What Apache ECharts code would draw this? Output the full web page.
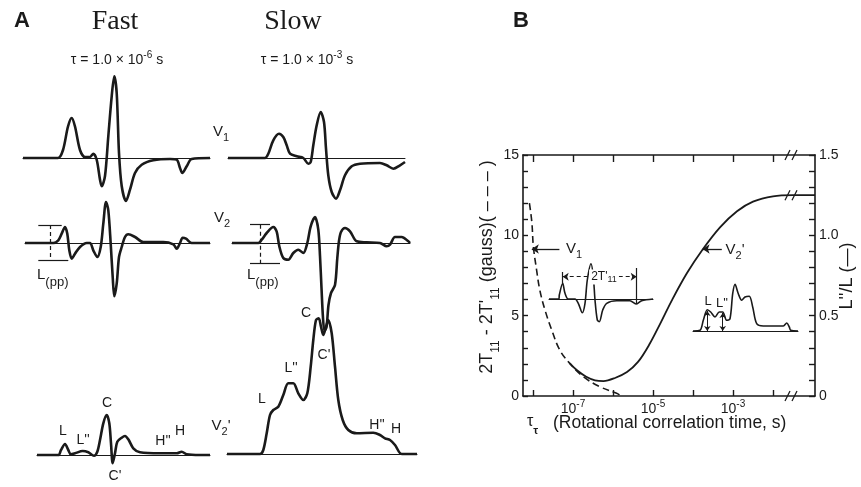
<!DOCTYPE html>
<html><head><meta charset="utf-8">
<script src="https://cdn.jsdelivr.net/npm/echarts@6/dist/echarts.min.js"></script>
<style>html,body{margin:0;padding:0;background:#fff}#c{width:861px;height:487px}</style>
</head><body><div id="c"></div>
<script>
// ---------- DATA (panel A spectra: [field position, amplitude], arbitrary units) ----------
const fastV1 = [[0,0],[35,0],[40,8],[45,31.5],[48.7,40],[52,31.5],[57,8],[62,1],[67,1],[70.3,4.3],[73.7,-1.7],[77,-21.7],[78.7,-28.3],[82,-18],[85.3,21.7],[88.7,61.7],[91.3,81.7],[93.7,65],[96,5],[98.7,-28],[103,-43],[107,-31.7],[112,-15],[118.7,-6.7],[130.3,-2.3],[147,-1],[153.7,-1.7],[157,-10],[159.3,-15],[163.7,-8.3],[168.7,-1],[187,0]];
const fastV2 = [[0,0],[28.3,0],[33.3,2.7],[36.7,9.3],[40,16],[42.3,9.3],[44.3,-7.3],[46.7,-15.6],[50,-10.7],[55,-4],[61.7,0],[65,0],[68.3,-7.3],[72.3,-14],[75.7,-4],[78.3,19.3],[81,41],[83.3,32.7],[85.7,-0.7],[87.7,-34],[89.3,-53.3],[91.7,-40.7],[94,-14],[96.7,-4],[100,6],[103.3,8.7],[110,6],[118.3,1],[138.3,1],[148.3,-1.3],[151.7,-5.7],[155,0],[157.7,5.3],[161,4.3],[166.7,0],[185,0]];
const fastV2p = [[0,0],[21.3,0],[24,5],[28,11],[31.3,5],[33.7,0.7],[38,1.7],[45.7,4],[51.3,2.7],[57,-0.7],[60.3,3.3],[63,15],[66.3,31.7],[69.7,40],[72.3,31.7],[74,11.7],[75.7,-8.3],[78,1.7],[80.3,13.3],[84.7,17.3],[88,19],[91.3,15.7],[96.3,6.7],[103,2.7],[123,1.7],[139.7,1.7],[144.7,3.3],[149.7,0.7],[163,0],[173,0]];
const slowV1 = [[0,0],[37,0],[40.3,4.3],[45.3,17.7],[51,24.3],[55.3,21],[58.7,12.7],[62,4.3],[68.7,1.7],[75.3,0],[80.3,-5.7],[82.7,-4],[85.3,12.7],[88.7,32.7],[92.7,46],[96,36],[98,9.3],[100.3,-17.3],[103.7,-34],[108,-40.7],[112,-32.3],[117,-17.3],[123.7,-8.3],[132,-5.7],[152,-5],[158.7,-7.3],[165.3,-10.7],[172,-7.3],[177,-4]];
const slowV2 = [[0,0],[26.3,0],[29.7,3.3],[34.7,10],[41.3,16],[44.7,11.3],[47.3,-3.3],[51.3,-15],[56.3,-16.7],[61.3,-10],[66.3,-6.7],[71.3,-10],[75.3,0],[78.7,16.7],[83,26],[86.3,13.3],[88,-13],[89.5,-45],[91,-75],[92.5,-88],[94.5,-84],[96.5,-62],[99,-50],[103,-42],[105.3,-15],[107,2],[109,11],[113,15],[118,11.7],[124.7,1.7],[134.7,0.7],[148,0],[154.7,-3.3],[158,-1.7],[163,6],[169.7,6],[176.3,1.7],[178,0]];
const slowV2p = [[0,0],[33,0],[36.3,4],[39.7,20.7],[43,39],[46.3,44],[51.3,47.3],[56.3,59],[61.3,70.7],[66.3,70.7],[71.3,60.7],[76.3,54],[80.3,60.7],[83.7,87.3],[86.3,114],[89,134],[91.7,135.7],[94,127.3],[96.3,119],[99,127.3],[101.3,134],[104.7,120.7],[108,87.3],[111.3,54],[115.7,34],[121.3,24],[129.7,20.7],[146.3,21.3],[153,19],[158,15.7],[163,14],[168,9],[174.7,0],[190,0]];
// ---------- DATA (panel B) ----------
// x = log10(tau_r / s)
const dashedV1 = [[-8.09,12.0],[-8.03,10.85],[-7.99,9.29],[-7.91,7.84],[-7.83,6.6],[-7.70,5.35],[-7.53,4.1],[-7.33,2.86],[-7.08,2.03],[-6.74,1.2],[-6.33,0.58],[-5.91,0.17],[-5.83,0.06]];
const solidV2p = [[-7.08,0.203],[-6.9,0.16],[-6.67,0.12],[-6.45,0.098],[-6.24,0.093],[-5.95,0.112],[-5.65,0.149],[-5.375,0.212],[-5.1,0.317],[-4.8,0.46],[-4.525,0.597],[-4.15,0.765],[-3.75,0.915],[-3.325,1.05],[-2.9,1.15],[-2.5,1.21],[-2.0,1.243],[-1.5,1.25],[-0.95,1.25]];
const insetV1 = [[0,0],[10,0],[10.3,4],[13.7,15.7],[16,5.7],[19.3,0],[26,0],[29.3,-4.3],[33.3,-13.7],[36,-4.3],[38.3,19],[42,35.3],[44.3,22.7],[46,-1],[48.3,-21],[50.3,-22.7],[53.7,-11],[57.7,-4.3],[67.7,-1.7],[81,-1.7],[87,-5],[92.7,-1.7],[104,0]];
const insetV2p = [[0,0],[7,0.7],[10.3,10.7],[14.3,21.3],[17.7,19],[22,14],[26.3,19],[29.7,19],[33.7,10.7],[37,12.3],[39.7,37.3],[42,46.7],[45.3,37.3],[48.7,30.7],[52,34],[56.3,34.7],[59.7,24],[63.7,7.3],[70.3,5],[90.3,5],[93.7,8],[96.3,4],[97.7,0.7],[105,0]];
const xTickValues = [-8,-7,-6,-5,-4,-3,-2];
const xLabelValues = [-7,-5,-3];

// ---------- LAYOUT ----------
const INK = '#1a1a1a';
const SANS = '"Liberation Sans", Arial, sans-serif';
const SERIF = '"Liberation Serif", "Times New Roman", serif';
const panels = [
  {data: fastV1,  left: 23,  width: 187, base: 158, yMin: -50, yMax: 90,  w: 2.6},
  {data: fastV2,  left: 25,  width: 185, base: 243, yMin: -60, yMax: 50,  w: 2.6},
  {data: fastV2p, left: 37,  width: 173, base: 455, yMin: -15, yMax: 45,  w: 2.6},
  {data: slowV1,  left: 228, width: 177, base: 158, yMin: -50, yMax: 55,  w: 2.6},
  {data: slowV2,  left: 232, width: 178, base: 243, yMin: -95, yMax: 35,  w: 2.6},
  {data: slowV2p, left: 227, width: 190, base: 454, yMin: -10, yMax: 145, w: 2.6},
  {data: insetV1, left: 549, width: 104, base: 299, yMin: -30, yMax: 40,  w: 1.6},
  {data: insetV2p,left: 693, width: 105, base: 331, yMin: -5,  yMax: 50,  w: 1.6}
];
const B = {left: 523, top: 155, right: 46, bottom: 91};

const grids = [], xAxes = [], yAxes = [], series = [];
function spectrumGrid(p) {
  return {left: p.left, top: p.base - p.yMax, width: p.width, height: p.yMax - p.yMin};
}
for (let i = 0; i < 6; i++) grids.push(spectrumGrid(panels[i]));
grids.push({left: B.left, top: B.top, right: B.right, bottom: B.bottom});
grids.push(spectrumGrid(panels[6]));
grids.push(spectrumGrid(panels[7]));

function hiddenX(gi, p) {
  return {gridIndex: gi, type: 'value', min: 0, max: p.width, axisLine: {show: true, onZero: true, lineStyle: {color: INK, width: 1}},
    axisTick: {show: false}, axisLabel: {show: false}, splitLine: {show: false}};
}
function hiddenY(gi, p) {
  return {gridIndex: gi, type: 'value', min: p.yMin, max: p.yMax, show: false, splitLine: {show: false}};
}
for (let i = 0; i < 6; i++) { xAxes[i] = hiddenX(i, panels[i]); yAxes[i] = hiddenY(i, panels[i]); }
const axLine = {show: true, onZero: false, lineStyle: {color: INK, width: 1.6}};
xAxes[6] = {gridIndex: 6, type: 'value', min: -8.25, max: -0.95, position: 'bottom', axisLine: axLine,
  axisTick: {show: true, inside: true, length: 6, customValues: xTickValues, lineStyle: {color: INK, width: 1.4}},
  axisLabel: {show: true, customValues: xLabelValues, margin: 3, color: INK,
    formatter: v => '{b|10}{s|' + v + '}',
    rich: {b: {fontFamily: SANS, fontSize: 14, color: INK, lineHeight: 17, verticalAlign: 'bottom'},
           s: {fontFamily: SANS, fontSize: 10, color: INK, lineHeight: 17, verticalAlign: 'top'}}},
  splitLine: {show: false}};
xAxes[7] = {gridIndex: 6, type: 'value', min: -8.25, max: -0.95, position: 'top', axisLine: axLine,
  axisTick: {show: true, inside: true, length: 7, customValues: xTickValues, lineStyle: {color: INK, width: 1.4}},
  axisLabel: {show: false}, splitLine: {show: false}};
xAxes[8] = hiddenX(7, panels[6]);
xAxes[9] = hiddenX(8, panels[7]);

yAxes[6] = {gridIndex: 6, type: 'value', min: 0, max: 15, interval: 1, position: 'left', axisLine: axLine,
  axisTick: {show: true, inside: true, length: 5, lineStyle: {color: INK, width: 1.4}},
  axisLabel: {margin: 4, color: INK, fontFamily: SANS, fontSize: 14, formatter: v => (v % 5 === 0 ? String(v) : '')},
  splitLine: {show: false}};
yAxes[7] = {gridIndex: 6, type: 'value', min: 0, max: 1.5, interval: 0.1, position: 'right', axisLine: axLine,
  axisTick: {show: true, inside: true, length: 6, lineStyle: {color: INK, width: 1.4}},
  axisLabel: {margin: 4, color: INK, fontFamily: SANS, fontSize: 14,
    formatter: v => { const h = v * 2; if (Math.abs(h - Math.round(h)) > 1e-6) return ''; return Math.abs(v) < 1e-9 ? '0' : v.toFixed(1); }},
  splitLine: {show: false}};
yAxes[8] = hiddenY(7, panels[6]);
yAxes[9] = hiddenY(8, panels[7]);

const solidThin = () => ({color: INK, width: 1.2, type: 'solid'});
const dashedThin = () => ({color: INK, width: 1.2, type: [4, 3]});
function seg(a, b, ls) { return [{coord: a, lineStyle: ls}, {coord: b}]; }
function ml(items) {
  return {silent: true, symbol: 'none', animation: false, label: {show: false}, lineStyle: solidThin(), data: items};
}
for (let i = 0; i < 6; i++) {
  series.push({type: 'line', xAxisIndex: i, yAxisIndex: i, data: panels[i].data, smooth: 0.3, symbol: 'none',
    lineStyle: {color: INK, width: panels[i].w}, animation: false, z: 3});
}
// L(pp) brackets (fast V2 = series 1, slow V2 = series 4)
series[1].markLine = ml([
  seg([13.3, 18], [36.7, 18], solidThin()),
  seg([13.3, -17.7], [43.3, -17.7], solidThin()),
  seg([25.7, 18], [25.7, -17.7], dashedThin())
]);
series[4].markLine = ml([
  seg([18, 18.3], [38, 18.3], solidThin()),
  seg([18, -20], [48, -20], solidThin()),
  seg([28, 18.3], [28, -20], dashedThin())
]);

// panel B curves
series.push({type: 'line', xAxisIndex: 6, yAxisIndex: 6, data: dashedV1, smooth: 0.4, symbol: 'none',
  lineStyle: {color: INK, width: 1.6, type: [7, 4]}, animation: false,
  markLine: {silent: true, animation: false, label: {show: false}, lineStyle: {color: INK, width: 1.3, type: 'solid'},
    symbol: 'none', symbolSize: 7,
    data: [
      [{coord: [-8.03, 9.15], symbol: 'arrow'}, {coord: [-7.34, 9.15], symbol: 'none'}],
      [{coord: [-3.76, 9.15], symbol: 'arrow'}, {coord: [-3.28, 9.15], symbol: 'none'}]
    ]}});
series.push({type: 'line', xAxisIndex: 6, yAxisIndex: 7, data: solidV2p, smooth: 0.35, symbol: 'none',
  lineStyle: {color: INK, width: 1.8}, animation: false});
// insets
series.push({type: 'line', xAxisIndex: 8, yAxisIndex: 8, data: insetV1, smooth: 0.3, symbol: 'none',
  lineStyle: {color: INK, width: 1.6}, animation: false,
  markLine: {silent: true, animation: false, label: {show: false}, symbol: 'none', symbolSize: 6, lineStyle: solidThin(),
    data: [
      [{coord: [13.7, 22.3], symbol: 'arrow', lineStyle: dashedThin()}, {coord: [87.7, 22.3], symbol: 'arrow'}],
      [{coord: [13.7, 15.7], lineStyle: solidThin()}, {coord: [13.7, 27]}],
      [{coord: [87.7, -5], lineStyle: solidThin()}, {coord: [87.7, 31]}]
    ]}});
series.push({type: 'line', xAxisIndex: 9, yAxisIndex: 9, data: insetV2p, smooth: 0.3, symbol: 'none',
  lineStyle: {color: INK, width: 1.6}, animation: false,
  markLine: {silent: true, animation: false, label: {show: false}, symbol: 'none', symbolSize: 5,
    lineStyle: {color: INK, width: 1, type: 'solid'},
    data: [
      [{coord: [14.3, 0], symbol: 'arrow'}, {coord: [14.3, 20], symbol: 'arrow'}],
      [{coord: [29.7, 0], symbol: 'arrow'}, {coord: [29.7, 18], symbol: 'arrow'}]
    ]}});

const chart = echarts.init(document.getElementById('c'), null, {renderer: 'canvas'});
chart.setOption({backgroundColor: '#fff', animation: false, grid: grids, xAxis: xAxes, yAxis: yAxes, series: series});

// ---------- TEXT & BREAK MARKS ----------
function txt(x, y, text, size, opts) {
  return {type: 'text', x: x, y: y, silent: true, z: 20,
    style: Object.assign({text: text, fill: INK, font: size + 'px ' + SANS, textAlign: 'center', textVerticalAlign: 'middle'}, opts || {})};
}
const supRich = {
  b: {fontFamily: SANS, fontSize: 14, fill: INK, lineHeight: 17, verticalAlign: 'bottom'},
  s: {fontFamily: SANS, fontSize: 10, fill: INK, lineHeight: 17, verticalAlign: 'top'},
  v: {fontFamily: SANS, fontSize: 15, fill: INK, lineHeight: 19, verticalAlign: 'top'},
  d: {fontFamily: SANS, fontSize: 11, fill: INK, lineHeight: 19, verticalAlign: 'bottom'},
  L: {fontFamily: SANS, fontSize: 15, fill: INK, lineHeight: 21, verticalAlign: 'top'},
  p: {fontFamily: SANS, fontSize: 13, fill: INK, lineHeight: 21, verticalAlign: 'bottom'},
  n: {fontFamily: SANS, fontSize: 18, fill: INK, lineHeight: 24, verticalAlign: 'top'},
  ns: {fontFamily: SANS, fontSize: 12, fill: INK, lineHeight: 24, verticalAlign: 'bottom'}
};
function rich(x, y, text, align, rot) {
  return {type: 'text', x: x, y: y, rotation: rot || 0, silent: true, z: 20,
    style: {text: text, rich: supRich, textAlign: align || 'center', textVerticalAlign: 'middle', fill: INK}};
}
const g = [];
g.push(txt(22, 21, 'A', 22, {font: 'bold 22px ' + SANS}));
g.push(txt(521, 21, 'B', 22, {font: 'bold 22px ' + SANS}));
g.push(txt(115, 22, 'Fast', 28, {font: '28px ' + SERIF}));
g.push(txt(293, 22, 'Slow', 28, {font: '28px ' + SERIF}));
g.push(rich(117, 59, '{b|\u03c4 = 1.0 \u00d7 10}{s|-6}{b| s}'));
g.push(rich(307, 59, '{b|\u03c4 = 1.0 \u00d7 10}{s|-3}{b| s}'));
g.push(rich(221, 134, '{v|V}{d|1}'));
g.push(rich(222, 220, '{v|V}{d|2}'));
g.push(rich(221, 428, '{v|V}{d|2}{v|\'}'));
g.push(rich(37, 278, '{L|L}{p|(pp)}', 'left'));
g.push(rich(247, 278, '{L|L}{p|(pp)}', 'left'));
// fast V2' peak labels
[[63,431,'L'],[83,440,'L\'\''],[107,403,'C'],[115,476,'C\''],[163,441,'H\'\''],[180,431,'H']].forEach(a => g.push(txt(a[0], a[1], a[2], 14)));
// slow V2' peak labels
[[262,399,'L'],[291,368,'L\'\''],[306,313,'C'],[324,355,'C\''],[377,425,'H\'\''],[396,429,'H']].forEach(a => g.push(txt(a[0], a[1], a[2], 14)));
// panel B axis titles
g.push(rich(490, 267, '{n|2T}{ns|11}{n| - 2T\'}{ns|11}{n| (gauss)( \u2013 \u2013 \u2013 )}', 'center', Math.PI / 2));
g.push(rich(850, 276, '{n|L\'\'/L (\u2014)}', 'center', Math.PI / 2));
// panel B annotations
g.push(rich(574, 251, '{v|V}{d|1}'));
g.push(rich(735, 252, '{v|V}{d|2}{v|\'}'));
g.push({type: 'text', x: 604, y: 277, silent: true, z: 21,
  style: {text: '2T\'{d|11}', rich: {d: {fontFamily: SANS, fontSize: 9, fill: INK, verticalAlign: 'bottom', lineHeight: 15}},
    font: '12px ' + SANS, fill: INK, textAlign: 'center', textVerticalAlign: 'middle', backgroundColor: '#fff', padding: [0, 2]}});
g.push(txt(708, 301, 'L', 13));
g.push(txt(722, 303, 'L\'\'', 13));
g.push({type: 'text', x: 527, y: 425, silent: true, z: 20,
  style: {text: '{t|\u03c4}{u|\u03c4}', textAlign: 'left', textVerticalAlign: 'middle',
    rich: {t: {fontFamily: SANS, fontSize: 16, fill: INK, lineHeight: 22, verticalAlign: 'top'},
           u: {fontFamily: SANS, fontSize: 11, fontWeight: 'bold', fill: INK, lineHeight: 22, verticalAlign: 'bottom'}}}});
g.push(txt(553, 423, '(Rotational correlation time, s)', 17.5, {textAlign: 'left'}));
// axis break marks
function brk(x, y) {
  return {type: 'group', x: x, y: y, silent: true, z: 30, children: [
    {type: 'rect', shape: {x: -3, y: -5, width: 6, height: 10}, style: {fill: '#fff'}},
    {type: 'line', shape: {x1: -6, y1: 5, x2: -1, y2: -5}, style: {stroke: INK, lineWidth: 1.3}},
    {type: 'line', shape: {x1: 1, y1: 5, x2: 6, y2: -5}, style: {stroke: INK, lineWidth: 1.3}}
  ]};
}
const bx = chart.convertToPixel({xAxisIndex: 6}, -1.55);
const yTop = chart.convertToPixel({yAxisIndex: 6}, 15);
const yBot = chart.convertToPixel({yAxisIndex: 6}, 0);
const yCurve = chart.convertToPixel({yAxisIndex: 7}, 1.25);
g.push(brk(bx, yTop), brk(bx, yBot), brk(bx, yCurve));
chart.setOption({graphic: g});
</script></body></html>
